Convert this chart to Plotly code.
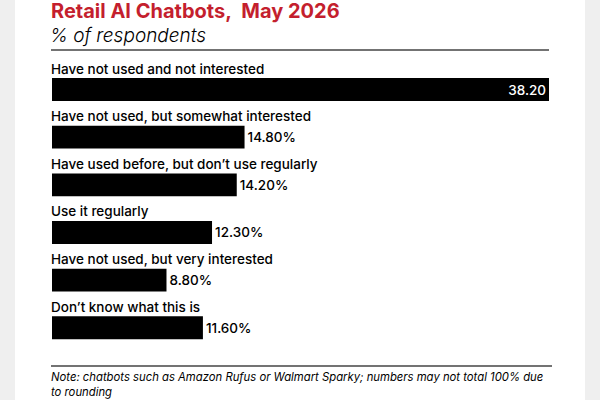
import plotly.graph_objects as go

categories = [
    "Have not used and not interested",
    "Have not used, but somewhat interested",
    "Have used before, but don’t use regularly",
    "Use it regularly",
    "Have not used, but very interested",
    "Don’t know what this is",
]
values = [38.20, 14.80, 14.20, 12.30, 8.80, 11.60]
value_labels = ["38.20", "14.80%", "14.20%", "12.30%", "8.80%", "11.60%"]

title = "Retail AI Chatbots,\u00a0 May 2026"
subtitle = "% of respondents"
note = ("Note: chatbots such as Amazon Rufus or Walmart Sparky; numbers may not total 100% due<br>"
        "to rounding<br>"
        "Source: Bizrate Insights and EMARKETER Survey, “Ecommerce Shopping Behavior Survey,” May 2026")

W, H = 600, 400
FONT = "Inter"

def px(x):
    return x / W

def py(y):
    return 1 - y / H

positions = ["inside" if i == 0 else "outside" for i in range(len(values))]
colors = ["white" if i == 0 else "black" for i in range(len(values))]

fig = go.Figure()
fig.add_trace(go.Bar(
    x=values, y=categories, orientation="h",
    marker=dict(color="black", line=dict(width=0)),
    width=0.48,
    text=value_labels, textposition=positions,
    insidetextanchor="end",
    textfont=dict(family=FONT, size=13.5, color=colors, weight=500),
    cliponaxis=False, hoverinfo="skip",
))

annotations = []
for c in categories:
    annotations.append(dict(
        x=0, y=c, xref="x", yref="y", xanchor="left", yanchor="middle",
        xshift=-3, yshift=21, showarrow=False, text=c,
        font=dict(family=FONT, size=13.5, color="black", weight=500),
    ))
annotations.append(dict(
    x=px(49), y=py(11), xref="paper", yref="paper", xanchor="left", yanchor="middle",
    showarrow=False, text=f"<b>{title}</b>",
    font=dict(family=FONT, size=20, color="#c41f2e"),
))
annotations.append(dict(
    x=px(48), y=py(35), xref="paper", yref="paper", xanchor="left", yanchor="middle",
    showarrow=False, text=f"<i>{subtitle}</i>",
    font=dict(family=FONT, size=19, color="black", weight=300),
))
annotations.append(dict(
    x=px(49), y=py(368), xref="paper", yref="paper", xanchor="left", yanchor="top",
    showarrow=False, text=f"<i>{note}</i>", align="left",
    font=dict(family=FONT, size=11.3, color="black"),
))

shapes = [
    dict(type="rect", xref="paper", yref="paper", x0=px(15), x1=px(585), y0=0, y1=1,
         fillcolor="white", line=dict(width=0), layer="below"),
    dict(type="line", xref="paper", yref="paper", x0=px(51), x1=px(549), y0=py(50), y1=py(50),
         line=dict(color="#444", width=1.5)),
    dict(type="line", xref="paper", yref="paper", x0=px(51), x1=px(552), y0=py(366), y1=py(366),
         line=dict(color="#444", width=1.5)),
]

fig.update_layout(
    width=W, height=H,
    margin=dict(l=0, r=0, t=0, b=0),
    paper_bgcolor="#efefef", plot_bgcolor="rgba(0,0,0,0)",
    showlegend=False,
    xaxis=dict(domain=[px(52), px(549)], range=[0, 38.2], visible=False, fixedrange=True),
    yaxis=dict(domain=[py(360), py(60)], range=[5.676, -0.619], visible=False,
               type="category", categoryorder="array", categoryarray=categories, fixedrange=True),
    annotations=annotations, shapes=shapes,
)

fig.write_html("out.html")
